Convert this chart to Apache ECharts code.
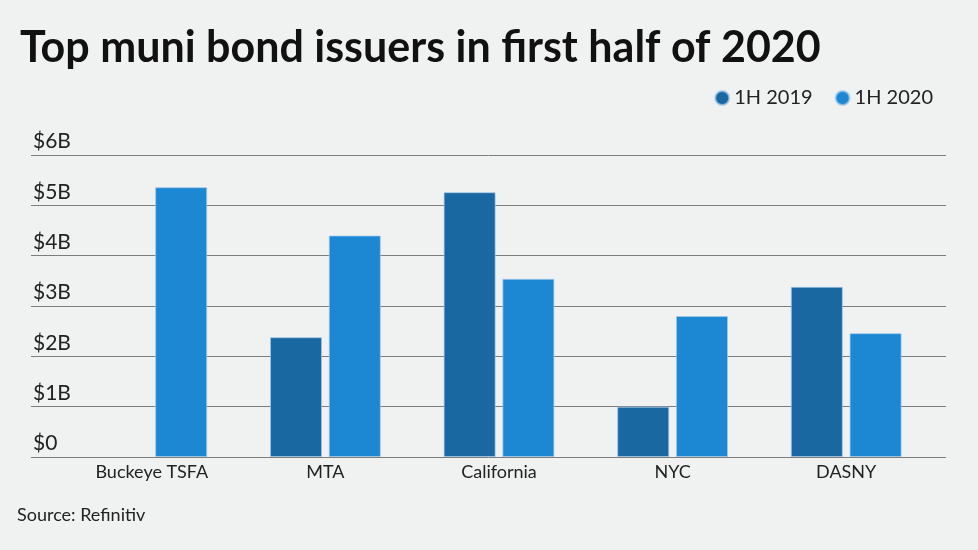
<!DOCTYPE html>
<html>
<head>
<meta charset="utf-8">
<script src="https://cdn.jsdelivr.net/npm/echarts@6/dist/echarts.min.js"></script>
<style>
html,body{margin:0;padding:0;background:#f0f2f1;}
#chart{width:978px;height:550px;}
</style>
</head>
<body>
<div id="chart"></div>
<script>
const categories = ['Buckeye TSFA', 'MTA', 'California', 'NYC', 'DASNY'];
const seriesNames = ['1H 2019', '1H 2020'];
const values2019 = [null, 2.38, 5.26, 1.00, 3.38];
const values2020 = [5.36, 4.40, 3.54, 2.80, 2.46];
const yTickLabels = ['$0', '$1B', '$2B', '$3B', '$4B', '$5B', '$6B'];

const FONT = 'Lato, "Noto Sans", sans-serif';
const chart = echarts.init(document.getElementById('chart'));
chart.setOption({
  backgroundColor: '#f0f2f1',
  animation: false,
  title: {
    text: 'Top muni bond issuers in first half of 2020',
    left: 15, top: 22,
    textStyle: {fontFamily: FONT, fontSize: 43, fontWeight: 'bold', color: '#111'}
  },
  legend: {
    data: seriesNames,
    right: 40, top: 83,
    icon: 'circle', itemWidth: 14, itemHeight: 14, itemGap: 22,
    textStyle: {fontFamily: FONT, fontSize: 20, color: '#222'}
  },
  graphic: [{
    type: 'text', left: 17, top: 506,
    style: {text: 'Source: Refinitiv', font: '18px ' + FONT, fill: '#222'}
  }],
  grid: [
    {left: 31, right: 32, top: 155, bottom: 93},
    {left: 65, right: 45, top: 155, bottom: 93}
  ],
  xAxis: [
    {gridIndex: 0, type: 'value', show: false, min: 0, max: 1},
    {gridIndex: 1, type: 'category', data: categories,
     axisLine: {show: false}, axisTick: {show: false},
     axisLabel: {fontFamily: FONT, fontSize: 18, color: '#222', margin: 6}}
  ],
  yAxis: [
    {gridIndex: 0, type: 'value', min: 0, max: 6, interval: 1,
     axisLine: {show: false}, axisTick: {show: false},
     axisLabel: {inside: true, margin: 2, verticalAlign: 'bottom', align: 'left',
       padding: [0, 0, 3, 0], fontFamily: FONT, fontSize: 21, color: '#222',
       formatter: v => yTickLabels[v]},
     splitLine: {lineStyle: {color: '#7d7d7d', width: 1}}},
    {gridIndex: 1, type: 'value', min: 0, max: 6, interval: 1, show: false,
     splitLine: {show: false}}
  ],
  series: [
    {name: seriesNames[0], type: 'bar', xAxisIndex: 1, yAxisIndex: 1,
     data: values2019, barWidth: 52, barGap: '13%',
     itemStyle: {color: '#1a68a1', borderColor: 'rgba(160,200,235,0.7)', borderWidth: 1}},
    {name: seriesNames[1], type: 'bar', xAxisIndex: 1, yAxisIndex: 1,
     data: values2020, barWidth: 52, barGap: '13%',
     itemStyle: {color: '#1c87d3', borderColor: 'rgba(160,200,235,0.7)', borderWidth: 1}}
  ]
});
</script>
</body>
</html>
